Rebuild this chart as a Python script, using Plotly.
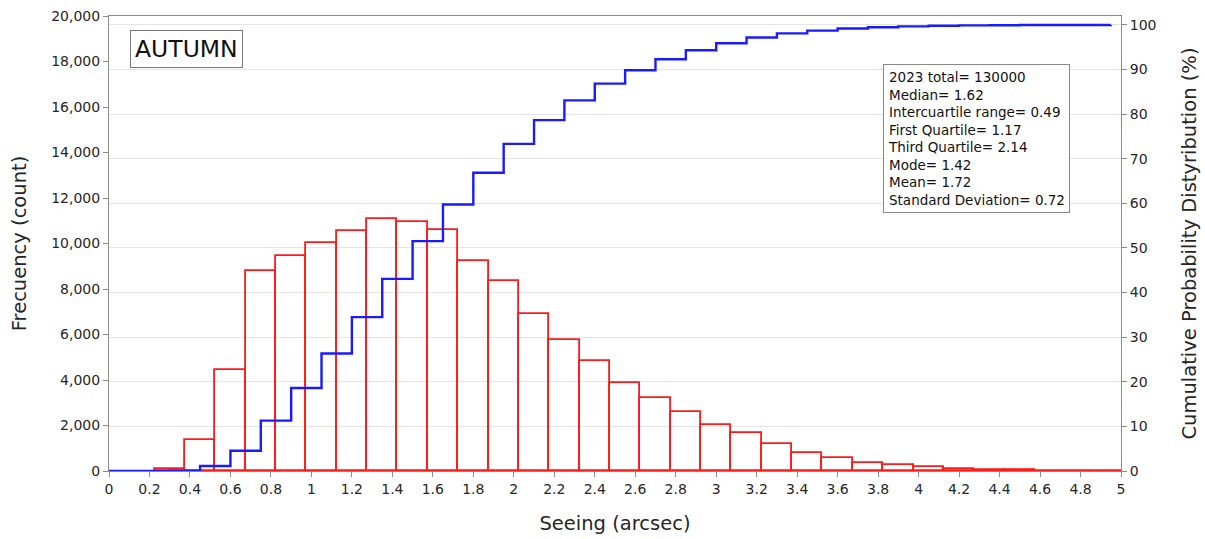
import numpy as np
import plotly.graph_objects as go

# Seeing histogram, autumn 2023 (bin width 0.15 arcsec, labelled by bin centre)
bin_centers = [0.30, 0.45, 0.60, 0.75, 0.90, 1.05, 1.20, 1.35, 1.50, 1.65,
               1.80, 1.95, 2.10, 2.25, 2.40, 2.55, 2.70, 2.85, 3.00, 3.15,
               3.30, 3.45, 3.60, 3.75, 3.90, 4.05, 4.20, 4.35, 4.50, 4.65,
               4.80, 4.95]
counts = [80, 1350, 4420, 8770, 9430, 10020, 10560, 11090, 10940, 10600,
          9220, 8360, 6900, 5740, 4850, 3850, 3220, 2600, 2040, 1670,
          1180, 810, 590, 370, 260, 180, 110, 60, 35, 20,
          12, 8]
bin_width = 0.15

# Cumulative curve starts from the axis origin (0 arcsec, 0 %)
seeing_origin = 0.0
cumulative_pct = list(np.cumsum(counts) / np.sum(counts) * 100.0)
cum_x = [seeing_origin] + bin_centers
cum_y = [0.0] + cumulative_pct

x_tick_vals = [0, 0.2, 0.4, 0.6, 0.8, 1, 1.2, 1.4, 1.6, 1.8, 2, 2.2, 2.4,
               2.6, 2.8, 3, 3.2, 3.4, 3.6, 3.8, 4, 4.2, 4.4, 4.6, 4.8, 5]
x_tick_text = [f"{v:g}" for v in x_tick_vals]

season = "AUTUMN"
stats_lines = [
    "2023 total= 130000",
    "Median= 1.62",
    "Intercuartile range= 0.49",
    "First Quartile= 1.17",
    "Third Quartile= 2.14",
    "Mode= 1.42",
    "Mean= 1.72",
    "Standard Deviation= 0.72",
]

FONT = "DejaVu Sans"
TEXT = "#262626"
AXIS = "#8c8c8c"

fig = go.Figure()

fig.add_trace(go.Bar(
    x=bin_centers, y=counts, width=bin_width,
    marker=dict(color="rgba(0,0,0,0)", line=dict(color="#ff1a1a", width=1.8)),
    yaxis="y", showlegend=False, hoverinfo="x+y",
))

fig.add_trace(go.Scatter(
    x=cum_x, y=cum_y, mode="lines",
    line=dict(color="#1a1aff", width=2.4, shape="hv"),
    yaxis="y2", showlegend=False,
))

fig.update_layout(
    width=1205, height=539,
    margin=dict(l=109, r=84, t=16, b=68, autoexpand=False),
    paper_bgcolor="white", plot_bgcolor="white",
    font=dict(family=FONT, color=TEXT, size=14),
    bargap=0,
    xaxis=dict(
        range=[0, 5], tickvals=x_tick_vals, ticktext=x_tick_text,
        ticks="outside", ticklen=5, tickcolor=AXIS,
        showline=True, linecolor=AXIS, linewidth=1, mirror=True,
        showgrid=False, zeroline=False, automargin=False,
        tickfont=dict(size=14, color=TEXT),
        title=dict(text="Seeing (arcsec)", font=dict(size=19.5, color=TEXT),
                   standoff=20),
    ),
    yaxis=dict(
        range=[0, 20000], dtick=2000, tickformat=",",
        ticks="outside", ticklen=5, tickcolor=AXIS,
        showline=True, linecolor=AXIS, linewidth=1,
        showgrid=False, zeroline=False, automargin=False,
        tickfont=dict(size=14, color=TEXT),
        title=dict(text="Frecuency (count)", font=dict(size=19.5, color=TEXT),
                   standoff=19),
    ),
    yaxis2=dict(
        overlaying="y", side="right",
        range=[0, 102.0], dtick=10,
        ticks="outside", ticklen=5, tickcolor=AXIS,
        showline=True, linecolor=AXIS, linewidth=1,
        showgrid=True, gridcolor="#e4e4e4", gridwidth=1, zeroline=False,
        automargin=False,
        tickfont=dict(size=14, color=TEXT),
        title=dict(text="Cumulative Probability Distyribution (%)",
                   font=dict(size=19.5, color=TEXT), standoff=26),
    ),
)

fig.add_annotation(
    xref="paper", yref="paper", x=0.0766, y=0.927,
    xanchor="center", yanchor="middle",
    text=season, showarrow=False,
    font=dict(size=23.5, color="#111111", family=FONT),
    bordercolor="#777777", borderwidth=1, borderpad=4, bgcolor="white",
)

fig.add_annotation(
    xref="paper", yref="paper", x=0.7648, y=0.8955,
    xanchor="left", yanchor="top", align="left",
    text="<br>".join(stats_lines), showarrow=False,
    font=dict(size=13.5, color="#111111", family=FONT),
    bordercolor="#888888", borderwidth=1, borderpad=4, bgcolor="white",
)

fig.write_html("out.html")
